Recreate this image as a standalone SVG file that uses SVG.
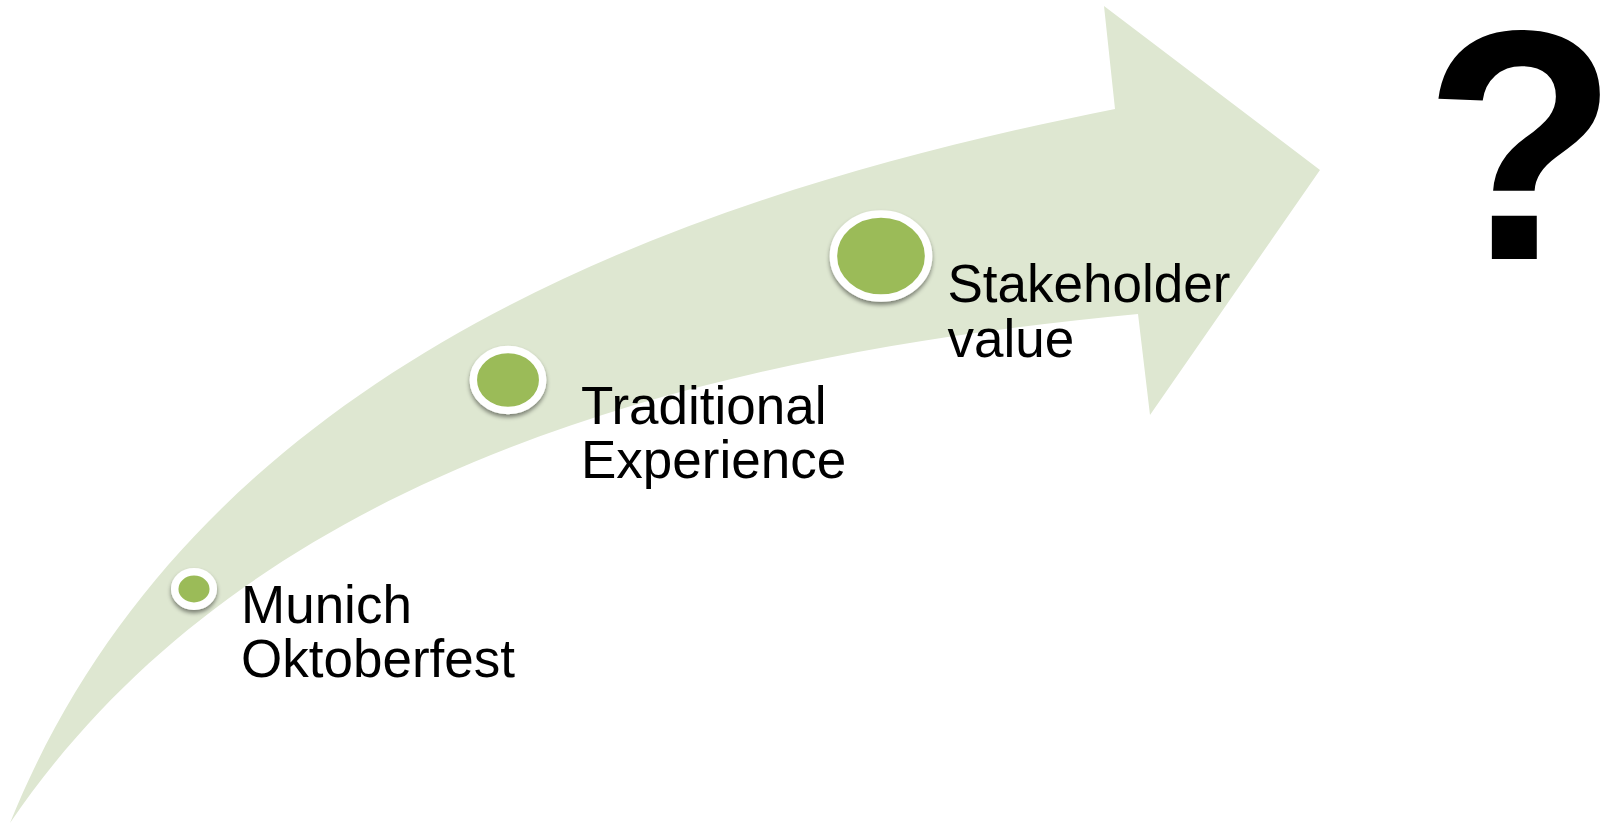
<svg xmlns="http://www.w3.org/2000/svg" width="1608" height="826" viewBox="0 0 1608 826">
  <defs>
    <filter id="dotShadow" x="-30%" y="-30%" width="160%" height="170%">
      <feDropShadow dx="0" dy="3" stdDeviation="2.2" flood-color="#000000" flood-opacity="0.45"/>
    </filter>
    <style>
      .band { fill: #DEE7D1; }
      .dot { fill: #9BBB59; stroke: #FFFFFF; stroke-width: 7.5; filter: url(#dotShadow); }
      .label { font-family: "Liberation Sans", Arial, sans-serif; font-size: 53px; fill: #000000; }
      .mark { font-family: "Liberation Sans", Arial, sans-serif; font-weight: bold; font-size: 328px; fill: #000000; }
    </style>
  </defs>

  <!-- curved upward arrow: outer edge, arrowhead, inner edge back to the tail point -->
  <g id="connectors">
    <path class="band" d="M 10,823
      C 194.6,367 677.3,195.9 1115,109
      L 1104,6
      L 1320,170
      L 1150,415
      L 1138,314
      C 724.6,353.2 256.7,459.6 10,823 Z"/>
  </g>

  <g id="node-munich">
    <ellipse class="dot" cx="194" cy="589" rx="19.3" ry="17.2"/>
    <text class="label" x="241" y="623">Munich</text>
    <text class="label" x="241" y="677">Oktoberfest</text>
  </g>

  <g id="node-traditional">
    <ellipse class="dot" cx="508" cy="380" rx="34.7" ry="30.4"/>
    <text class="label" x="581" y="423.5">Traditional</text>
    <text class="label" x="581" y="478">Experience</text>
  </g>

  <g id="node-stakeholder">
    <ellipse class="dot" cx="881" cy="256" rx="47.6" ry="42"/>
    <text class="label" x="947.5" y="302">Stakeholder</text>
    <text class="label" x="947.5" y="356.5">value</text>
  </g>

  <g id="node-question">
    <text class="mark" transform="translate(1521,259) scale(0.97,1)" text-anchor="middle">?</text>
  </g>
</svg>
